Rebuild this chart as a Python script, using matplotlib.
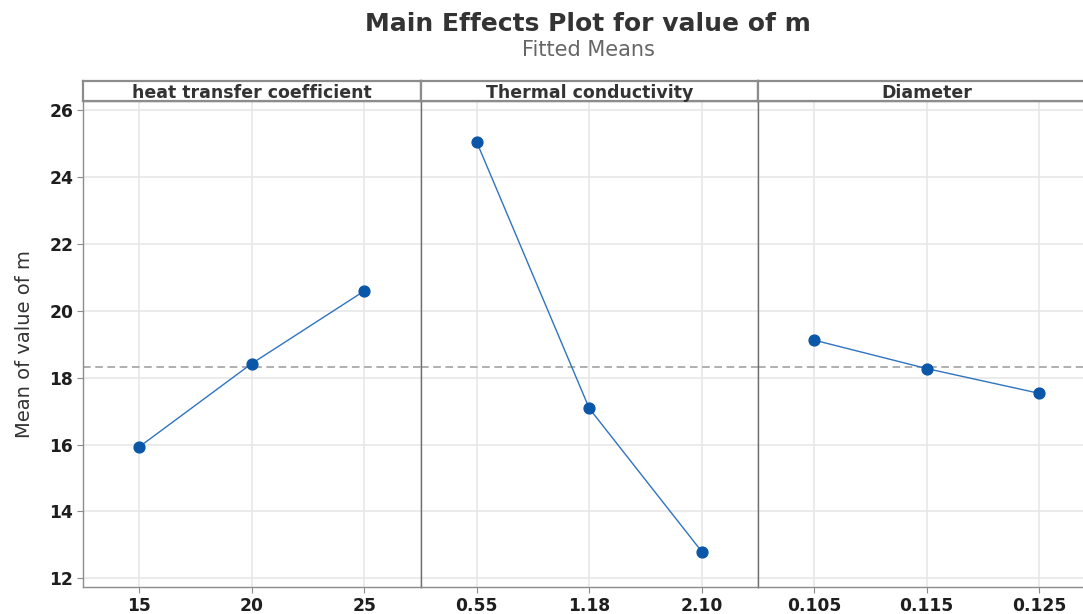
import numpy as np
import matplotlib
matplotlib.use("Agg")
import matplotlib.pyplot as plt

plt.rcParams['font.family'] = ['DejaVu Sans']

# factors and fitted means
factors = ["heat transfer coefficient", "Thermal conductivity", "Diameter"]
levels = [["15", "20", "25"],
          ["0.55", "1.18", "2.10"],
          ["0.105", "0.115", "0.125"]]
heat_means = [15.93, 18.42, 20.59]
cond_means = [25.04, 17.08, 12.80]
diam_means = [19.12, 18.27, 17.53]
grand_mean = 18.31
y_ticks = [12, 14, 16, 18, 20, 22, 24, 26]

series = [heat_means, cond_means, diam_means]

W, H = 1083, 614
fig = plt.figure(figsize=(W / 100, H / 100), dpi=100)

# panel geometry in pixels (last panel runs past the right edge)
left_px = 83
panel_w = 337.5
top_px, bottom_px = 101, 587
strip_px = 20

line_col = '#2f74c0'
mark_col = '#0a56a8'
grid_col = '#e6e6e6'
frame_col = '#8c8c8c'

axes = []
for i, (name, labs, vals) in enumerate(zip(factors, levels, series)):
    x0 = (left_px + i * panel_w) / W
    ax = fig.add_axes([x0, 1 - bottom_px / H, panel_w / W, (bottom_px - top_px) / H])
    xs = np.arange(len(vals))
    ax.axhline(grand_mean, color='#9a9a9a', lw=1.1, ls=(0, (5, 3)), zorder=2)
    ax.plot(xs, vals, color=line_col, lw=1.0, zorder=3)
    ax.plot(xs, vals, 'o', color=mark_col, ms=7.8, zorder=4)
    ax.set_xlim(-0.5, 2.5)
    ax.set_ylim(11.74, 26.27)
    ax.set_xticks(xs)
    ax.set_xticklabels(labs)
    ax.set_yticks(y_ticks)
    ax.grid(True, color=grid_col, lw=1.1, zorder=0)
    ax.set_axisbelow(True)
    for s in ax.spines.values():
        s.set_color(frame_col)
        s.set_linewidth(1.0)
    ax.tick_params(axis='both', colors=frame_col, labelcolor='#1e1e1e',
                   labelsize=12.3, length=4, width=0.8, pad=3)
    for t in ax.get_xticklabels() + ax.get_yticklabels():
        t.set_fontweight('bold')
    if i > 0:
        ax.tick_params(axis='y', left=False, labelleft=False)
        ax.spines['left'].set_color('#6e6e6e')
    axes.append(ax)

    # strip header above each panel
    sax = fig.add_axes([x0, 1 - top_px / H, panel_w / W, strip_px / H])
    sax.set_xticks([])
    sax.set_yticks([])
    for s in sax.spines.values():
        s.set_color(frame_col)
        s.set_linewidth(1.6)
    sax.text(0.5, 0.42, name, ha='center', va='center', fontsize=12.5,
             fontweight='bold', color='#333333', transform=sax.transAxes)

axes[0].set_ylabel("Mean of value of m", fontsize=14, color='#333333')
axes[0].yaxis.set_label_coords(-(83 - 34) / panel_w, 0.5)

fig.text(588 / W, 1 - 24 / H, "Main Effects Plot for value of m", ha='center', va='center',
         fontsize=18, fontweight='bold', color='#333333')
fig.text(588 / W, 1 - 50 / H, "Fitted Means", ha='center', va='center',
         fontsize=15, color='#666666')

fig.savefig("out.png", dpi=100, facecolor='white')
